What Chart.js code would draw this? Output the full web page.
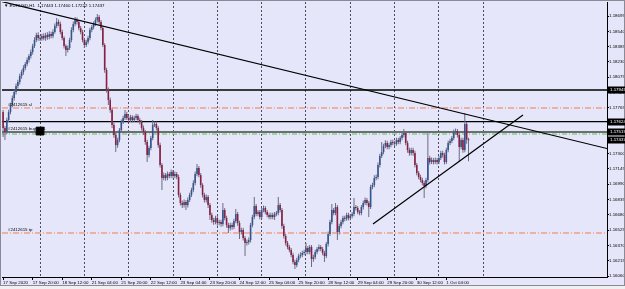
<!DOCTYPE html>
<html>
<head>
<meta charset="utf-8">
<script src="https://cdn.jsdelivr.net/npm/chart.js@4.4.0/dist/chart.umd.min.js"></script>
<style>
html, body { margin: 0; padding: 0; background: #e6e6fa; }
</style>
</head>
<body>
<canvas id="myChart" width="625" height="289"></canvas>
<script>
// EURUSD H1, first bar 17 Sep 2020 04:00, one value per hourly bar
var opens = [
  1.17722,1.17560,1.17519,1.17641,1.17722,1.17793,1.17864,1.17925,1.17985,1.18026,
  1.18087,1.18127,1.18168,1.18208,1.18249,1.18289,1.18330,1.18391,1.18452,1.18502,
  1.18472,1.18465,1.18492,1.18470,1.18502,1.18482,1.18512,1.18492,1.18533,1.18593,
  1.18634,1.18614,1.18533,1.18472,1.18391,1.18350,1.18371,1.18452,1.18553,1.18614,
  1.18654,1.18634,1.18573,1.18533,1.18452,1.18401,1.18431,1.18472,1.18553,1.18583,
  1.18614,1.18654,1.18685,1.18634,1.18573,1.18401,1.18148,1.17945,1.17843,1.17742,
  1.17590,1.17489,1.17387,1.17438,1.17539,1.17621,1.17661,1.17702,1.17661,1.17641,
  1.17671,1.17641,1.17661,1.17681,1.17641,1.17621,1.17560,1.17519,1.17418,1.17286,
  1.17357,1.17458,1.17590,1.17600,1.17560,1.17387,1.17185,1.17053,1.17083,1.17053,
  1.17094,1.17073,1.17114,1.17073,1.17094,1.17063,1.16881,1.16800,1.16779,1.16810,
  1.16779,1.16830,1.16881,1.16931,1.17002,1.17094,1.17154,1.17083,1.16982,1.16881,
  1.16830,1.16860,1.16779,1.16678,1.16627,1.16607,1.16648,1.16597,1.16607,1.16587,
  1.16729,1.16648,1.16577,1.16546,1.16577,1.16556,1.16617,1.16688,1.16597,1.16506,
  1.16526,1.16445,1.16394,1.16404,1.16425,1.16577,1.16658,1.16769,1.16688,1.16708,
  1.16658,1.16729,1.16749,1.16708,1.16678,1.16658,1.16678,1.16658,1.16688,1.16698,
  1.16779,1.16729,1.16566,1.16465,1.16394,1.16354,1.16323,1.16273,1.16202,1.16171,
  1.16222,1.16262,1.16273,1.16293,1.16303,1.16344,1.16303,1.16354,1.16232,1.16252,
  1.16303,1.16333,1.16354,1.16333,1.16293,1.16262,1.16384,1.16485,1.16607,1.16729,
  1.16698,1.16759,1.16506,1.16566,1.16607,1.16648,1.16640,1.16678,1.16648,1.16668,
  1.16688,1.16759,1.16749,1.16708,1.16698,1.16759,1.16800,1.16830,1.16800,1.16759,
  1.16962,1.16982,1.17053,1.17063,1.17185,1.17276,1.17316,1.17377,1.17408,1.17367,
  1.17387,1.17418,1.17408,1.17400,1.17438,1.17418,1.17458,1.17489,1.17509,1.17408,
  1.17337,1.17306,1.17337,1.17306,1.17185,1.17104,1.17063,1.17033,1.17002,1.16972,
  1.17033,1.17256,1.17215,1.17235,1.17215,1.17235,1.17215,1.17256,1.17306,1.17286,
  1.17215,1.17337,1.17408,1.17428,1.17458,1.17519,1.17529,1.17489,1.17367,1.17438,
  1.17337,1.17600,1.17443
];
var highs = [
  1.17742,1.17580,1.17665,1.17745,1.17815,1.17890,1.17950,1.18010,1.18050,1.18110,
  1.18150,1.18195,1.18230,1.18275,1.18310,1.18355,1.18415,1.18480,1.18525,1.18530,
  1.18500,1.18515,1.18520,1.18525,1.18530,1.18540,1.18535,1.18560,1.18620,1.18675,
  1.18660,1.18640,1.18555,1.18490,1.18410,1.18395,1.18475,1.18580,1.18640,1.18685,
  1.18680,1.18655,1.18595,1.18555,1.18475,1.18455,1.18495,1.18575,1.18605,1.18640,
  1.18680,1.18715,1.18705,1.18655,1.18595,1.18420,1.18170,1.17970,1.17870,1.17765,
  1.17615,1.17510,1.17460,1.17560,1.17645,1.17685,1.17742,1.17725,1.17685,1.17695,
  1.17690,1.17685,1.17705,1.17700,1.17665,1.17640,1.17585,1.17540,1.17440,1.17380,
  1.17480,1.17641,1.17625,1.17625,1.17580,1.17410,1.17205,1.17110,1.17105,1.17120,
  1.17115,1.17140,1.17135,1.17120,1.17115,1.17085,1.16905,1.16825,1.16835,1.16830,
  1.16855,1.16905,1.16955,1.17030,1.17120,1.17195,1.17175,1.17105,1.17000,1.16905,
  1.16885,1.16880,1.16800,1.16700,1.16650,1.16670,1.16670,1.16630,1.16630,1.16800,
  1.16750,1.16670,1.16600,1.16600,1.16600,1.16640,1.16739,1.16710,1.16620,1.16550,
  1.16550,1.16465,1.16430,1.16450,1.16600,1.16680,1.16860,1.16790,1.16730,1.16730,
  1.16750,1.16775,1.16770,1.16730,1.16700,1.16700,1.16700,1.16710,1.16720,1.16860,
  1.16800,1.16750,1.16590,1.16485,1.16415,1.16375,1.16345,1.16295,1.16225,1.16245,
  1.16285,1.16300,1.16315,1.16325,1.16394,1.16365,1.16375,1.16375,1.16275,1.16325,
  1.16355,1.16380,1.16375,1.16355,1.16315,1.16405,1.16510,1.16630,1.16790,1.16750,
  1.16800,1.16780,1.16590,1.16630,1.16670,1.16670,1.16700,1.16700,1.16690,1.16710,
  1.16850,1.16780,1.16770,1.16730,1.16780,1.16825,1.16855,1.16850,1.16820,1.16985,
  1.17005,1.17080,1.17090,1.17210,1.17300,1.17418,1.17400,1.17435,1.17430,1.17410,
  1.17440,1.17440,1.17430,1.17460,1.17460,1.17480,1.17515,1.17550,1.17530,1.17430,
  1.17360,1.17360,1.17360,1.17330,1.17205,1.17125,1.17085,1.17055,1.17025,1.17055,
  1.17509,1.17280,1.17260,1.17255,1.17260,1.17255,1.17280,1.17330,1.17330,1.17310,
  1.17360,1.17430,1.17450,1.17480,1.17545,1.17555,1.17550,1.17510,1.17460,1.17460,
  1.17712,1.17620,1.17460
];
var lows = [
  1.17470,1.17438,1.17500,1.17620,1.17700,1.17770,1.17840,1.17900,1.17960,1.18000,
  1.18060,1.18100,1.18145,1.18185,1.18225,1.18265,1.18305,1.18370,1.18430,1.18445,
  1.18440,1.18445,1.18450,1.18445,1.18455,1.18460,1.18470,1.18470,1.18515,1.18570,
  1.18590,1.18510,1.18450,1.18365,1.18289,1.18325,1.18350,1.18430,1.18530,1.18590,
  1.18610,1.18550,1.18510,1.18430,1.18371,1.18380,1.18410,1.18450,1.18530,1.18560,
  1.18595,1.18630,1.18610,1.18550,1.18380,1.18120,1.17920,1.17793,1.17715,1.17560,
  1.17460,1.17316,1.17360,1.17415,1.17515,1.17600,1.17640,1.17640,1.17620,1.17620,
  1.17615,1.17620,1.17640,1.17615,1.17595,1.17535,1.17490,1.17390,1.17215,1.17260,
  1.17335,1.17435,1.17570,1.17535,1.17360,1.17160,1.16931,1.17030,1.17025,1.17030,
  1.17050,1.17050,1.17050,1.17050,1.17040,1.16855,1.16775,1.16750,1.16755,1.16729,
  1.16755,1.16810,1.16860,1.16910,1.16980,1.17070,1.17060,1.16955,1.16855,1.16805,
  1.16805,1.16750,1.16627,1.16600,1.16580,1.16585,1.16570,1.16575,1.16560,1.16565,
  1.16625,1.16550,1.16496,1.16520,1.16530,1.16535,1.16595,1.16570,1.16435,1.16480,
  1.16420,1.16262,1.16370,1.16380,1.16400,1.16555,1.16635,1.16665,1.16665,1.16635,
  1.16635,1.16705,1.16685,1.16655,1.16635,1.16635,1.16635,1.16627,1.16665,1.16675,
  1.16705,1.16540,1.16440,1.16370,1.16330,1.16300,1.16250,1.16180,1.16131,1.16150,
  1.16200,1.16240,1.16250,1.16270,1.16280,1.16280,1.16280,1.16151,1.16205,1.16230,
  1.16280,1.16310,1.16310,1.16270,1.16202,1.16240,1.16360,1.16465,1.16585,1.16675,
  1.16675,1.16425,1.16480,1.16545,1.16585,1.16615,1.16620,1.16625,1.16625,1.16645,
  1.16665,1.16725,1.16685,1.16675,1.16675,1.16735,1.16780,1.16775,1.16658,1.16740,
  1.16940,1.16960,1.17030,1.17040,1.17160,1.17255,1.17295,1.17355,1.17345,1.17345,
  1.17365,1.17385,1.17375,1.17380,1.17395,1.17395,1.17435,1.17465,1.17385,1.17310,
  1.17280,1.17285,1.17280,1.17160,1.17080,1.17040,1.17010,1.16980,1.16850,1.16950,
  1.17010,1.17190,1.17195,1.17190,1.17195,1.17190,1.17195,1.17235,1.17260,1.17190,
  1.17195,1.17315,1.17385,1.17405,1.17435,1.17495,1.17465,1.17215,1.17345,1.17310,
  1.17315,1.17400,1.17222
];
var closes = [
  1.17560,1.17519,1.17641,1.17722,1.17793,1.17864,1.17925,1.17985,1.18026,1.18087,
  1.18127,1.18168,1.18208,1.18249,1.18289,1.18330,1.18391,1.18452,1.18502,1.18472,
  1.18465,1.18492,1.18470,1.18502,1.18482,1.18512,1.18492,1.18533,1.18593,1.18634,
  1.18614,1.18533,1.18472,1.18391,1.18350,1.18371,1.18452,1.18553,1.18614,1.18654,
  1.18634,1.18573,1.18533,1.18452,1.18401,1.18431,1.18472,1.18553,1.18583,1.18614,
  1.18654,1.18685,1.18634,1.18573,1.18401,1.18148,1.17945,1.17843,1.17742,1.17590,
  1.17489,1.17387,1.17438,1.17539,1.17621,1.17661,1.17702,1.17661,1.17641,1.17671,
  1.17641,1.17661,1.17681,1.17641,1.17621,1.17560,1.17519,1.17418,1.17286,1.17357,
  1.17458,1.17590,1.17600,1.17560,1.17387,1.17185,1.17053,1.17083,1.17053,1.17094,
  1.17073,1.17114,1.17073,1.17094,1.17063,1.16881,1.16800,1.16779,1.16810,1.16779,
  1.16830,1.16881,1.16931,1.17002,1.17094,1.17154,1.17083,1.16982,1.16881,1.16830,
  1.16860,1.16779,1.16678,1.16627,1.16607,1.16648,1.16597,1.16607,1.16587,1.16729,
  1.16648,1.16577,1.16546,1.16577,1.16556,1.16617,1.16688,1.16597,1.16506,1.16526,
  1.16445,1.16394,1.16404,1.16425,1.16577,1.16658,1.16769,1.16688,1.16708,1.16658,
  1.16729,1.16749,1.16708,1.16678,1.16658,1.16678,1.16658,1.16688,1.16698,1.16779,
  1.16729,1.16566,1.16465,1.16394,1.16354,1.16323,1.16273,1.16202,1.16171,1.16222,
  1.16262,1.16273,1.16293,1.16303,1.16344,1.16303,1.16354,1.16232,1.16252,1.16303,
  1.16333,1.16354,1.16333,1.16293,1.16262,1.16384,1.16485,1.16607,1.16729,1.16698,
  1.16759,1.16506,1.16566,1.16607,1.16648,1.16640,1.16678,1.16648,1.16668,1.16688,
  1.16759,1.16749,1.16708,1.16698,1.16759,1.16800,1.16830,1.16800,1.16759,1.16962,
  1.16982,1.17053,1.17063,1.17185,1.17276,1.17316,1.17377,1.17408,1.17367,1.17387,
  1.17418,1.17408,1.17400,1.17438,1.17418,1.17458,1.17489,1.17509,1.17408,1.17337,
  1.17306,1.17337,1.17306,1.17185,1.17104,1.17063,1.17033,1.17002,1.16972,1.17033,
  1.17256,1.17215,1.17235,1.17215,1.17235,1.17215,1.17256,1.17306,1.17286,1.17215,
  1.17337,1.17408,1.17428,1.17458,1.17519,1.17529,1.17489,1.17367,1.17438,1.17337,
  1.17600,1.17443,1.17437
];

// x axis: bar index of each time label, and first bar of each day
var tickIdx = [0, 16, 32, 48, 64, 80, 96, 112, 128, 144, 160, 176, 192, 208, 224, 240];
var tickLabels = [
  "17 Sep 2020", "17 Sep 20:00", "18 Sep 12:00", "21 Sep 04:00", "21 Sep 20:00",
  "22 Sep 12:00", "23 Sep 04:00", "23 Sep 20:00", "24 Sep 12:00", "25 Sep 04:00",
  "25 Sep 20:00", "28 Sep 12:00", "29 Sep 04:00", "29 Sep 20:00", "30 Sep 12:00",
  "1 Oct 04:00"
];
var dayStarts = [20, 44, 68, 92, 116, 140, 164, 188, 212, 236, 260];
var priceTicks = [
  1.16060, 1.16215, 1.16370, 1.16525, 1.16680, 1.16835, 1.16990, 1.17145, 1.17300,
  1.17455, 1.17610, 1.17765, 1.17920, 1.18075, 1.18230, 1.18385, 1.18540, 1.18695
];

// order levels: black line, sl, black line, entry, green, tp
var levels = [1.17945, 1.17763, 1.17624, 1.17519, 1.17499, 1.16496];
var levelBoxes = [1.17945, 1.17624, 1.17519, 1.17437];
var trendA = [{x: -0.6, y: 1.18841}, {x: 327, y: 1.17352}];
var trendB = [{x: 200.3, y: 1.16587}, {x: 281.5, y: 1.17691}];
var orderMark = [{x: 20, y: 1.17529}];
var orderTags = [
  {text: "#2412615 sl", level: 1.17763},
  {text: "#2412615 buy 0.01", level: 1.17519},
  {text: "#2412615 tp", level: 1.16496}
];
var header = "\u25BC EURUSD,H1  1.17443 1.17460 1.17222 1.17437";

var levelStyles = [
  {color: "#000000", width: 1.3, dash: []},
  {color: "#f37b4f", width: 1, dash: [6, 2, 1, 2]},
  {color: "#000000", width: 1.3, dash: []},
  {color: "#6e6e6e", width: 2, dash: []},
  {color: "#5cbf5c", width: 1, dash: [5, 2, 1, 2]},
  {color: "#f37b4f", width: 1, dash: [6, 2, 1, 2]}
];

var FONT = "'Liberation Sans', Arial, sans-serif";
var FS = 4.4;
var X_MIN = -0.6, X_MAX = 327;

var bodies = [], wicks = [], bodyColors = [];
for (var i = 0; i < closes.length; i++) {
  bodies.push({x: i, y: [opens[i], closes[i]]});
  wicks.push({x: i, y: [lows[i], highs[i]]});
  bodyColors.push(closes[i] >= opens[i] ? "#35558e" : "#8a1f43");
}

var datasets = [];
levels.forEach(function (lvl, k) {
  datasets.push({
    type: "line", data: [{x: X_MIN, y: lvl}, {x: X_MAX, y: lvl}],
    borderColor: levelStyles[k].color, borderWidth: levelStyles[k].width,
    borderDash: levelStyles[k].dash, pointRadius: 0, order: 3, xAxisID: "x", yAxisID: "y"
  });
});
datasets.push({
  type: "bar", data: wicks, backgroundColor: "#6c6c80", barThickness: 1,
  grouped: false, inflateAmount: 0, borderWidth: 0, order: 2, xAxisID: "x", yAxisID: "y"
});
datasets.push({
  type: "bar", data: bodies, backgroundColor: bodyColors, barThickness: 1.6,
  grouped: false, inflateAmount: 0, borderWidth: 0, minBarLength: 1, order: 1, xAxisID: "x", yAxisID: "y"
});
[trendA, trendB].forEach(function (pts) {
  datasets.push({
    type: "line", data: pts, borderColor: "#000", borderWidth: 1.2,
    pointRadius: 0, order: 0, xAxisID: "x", yAxisID: "y"
  });
});
datasets.push({
  type: "line", data: orderMark, showLine: false, pointStyle: "rect",
  pointRadius: 5.5, backgroundColor: "#000", borderColor: "#000", order: 0, xAxisID: "x", yAxisID: "y"
});

function noPad(s) {
  s.paddingTop = 0; s.paddingBottom = 0; s.paddingLeft = 0; s.paddingRight = 0;
}

var decor = {
  id: "decor",
  beforeDraw: function (chart) {
    var c = chart.ctx;
    c.save();
    c.fillStyle = "#e6e6fa";
    c.fillRect(0, 0, chart.width, chart.height);
    c.restore();
  },
  afterDraw: function (chart) {
    var c = chart.ctx, ys = chart.scales.y, area = chart.chartArea;
    c.save();
    // outer frame and bottom tab strip
    c.strokeStyle = "#8a8a96";
    c.lineWidth = 1;
    c.strokeRect(0.5, 0.5, chart.width - 1, chart.height - 4);
    c.fillStyle = "#f0f0f0";
    c.fillRect(0, chart.height - 3, chart.width, 3);
    c.font = FS + "px " + FONT;
    c.textBaseline = "alphabetic";
    c.fillStyle = "#000";
    c.fillText(header, 4, 7);
    orderTags.forEach(function (t) {
      c.fillText(t.text, 8, ys.getPixelForValue(t.level) - 2);
    });
    c.textBaseline = "middle";
    levelBoxes.forEach(function (v) {
      var py = Math.round(ys.getPixelForValue(v));
      c.fillStyle = "#000";
      c.fillRect(area.right + 1, py - 3.5, chart.width - area.right, 7);
      c.fillStyle = "#fff";
      c.fillText(v.toFixed(5), area.right + 3, py);
    });
    c.restore();
  }
};

var ctx = document.getElementById("myChart");
var myChart = new Chart(ctx, {
  type: "bar",
  data: {datasets: datasets},
  plugins: [decor],
  options: {
    responsive: false,
    animation: false,
    devicePixelRatio: 1,
    layout: {autoPadding: false, padding: {left: 2, top: 2, right: 0, bottom: 0}},
    plugins: {legend: {display: false}, tooltip: {enabled: false}},
    scales: {
      x: {
        type: "linear", position: "bottom", min: X_MIN, max: X_MAX, offset: false,
        afterBuildTicks: function (s) { s.ticks = tickIdx.map(function (v) { return {value: v}; }); },
        afterFit: function (s) { s.height = 12; noPad(s); },
        ticks: {
          autoSkip: false, maxRotation: 0, align: "start", padding: 0, color: "#000",
          font: {family: FONT, size: FS},
          callback: function (v, idx) { return tickLabels[idx]; }
        },
        grid: {drawOnChartArea: false, offset: false, tickLength: 3, color: "#000"},
        border: {color: "#000"}
      },
      xDays: {
        type: "linear", position: "bottom", min: X_MIN, max: X_MAX, offset: false,
        afterBuildTicks: function (s) { s.ticks = dayStarts.map(function (v) { return {value: v}; }); },
        afterFit: function (s) { s.height = 0; noPad(s); },
        ticks: {display: false},
        grid: {drawTicks: false, offset: false, color: "#4c4c5a", lineWidth: 1},
        border: {display: false, dash: [2, 2]}
      },
      y: {
        type: "linear", position: "right", min: 1.16050, max: 1.18837, beginAtZero: false,
        afterBuildTicks: function (s) { s.ticks = priceTicks.map(function (v) { return {value: v}; }); },
        afterFit: function (s) { s.width = 18; noPad(s); },
        ticks: {
          autoSkip: false, padding: 0, color: "#000", font: {family: FONT, size: FS},
          callback: function (v) { return v.toFixed(5); }
        },
        grid: {drawOnChartArea: false, tickLength: 2, color: "#000"},
        border: {color: "#000"}
      }
    }
  }
});
</script>
</body>
</html>
